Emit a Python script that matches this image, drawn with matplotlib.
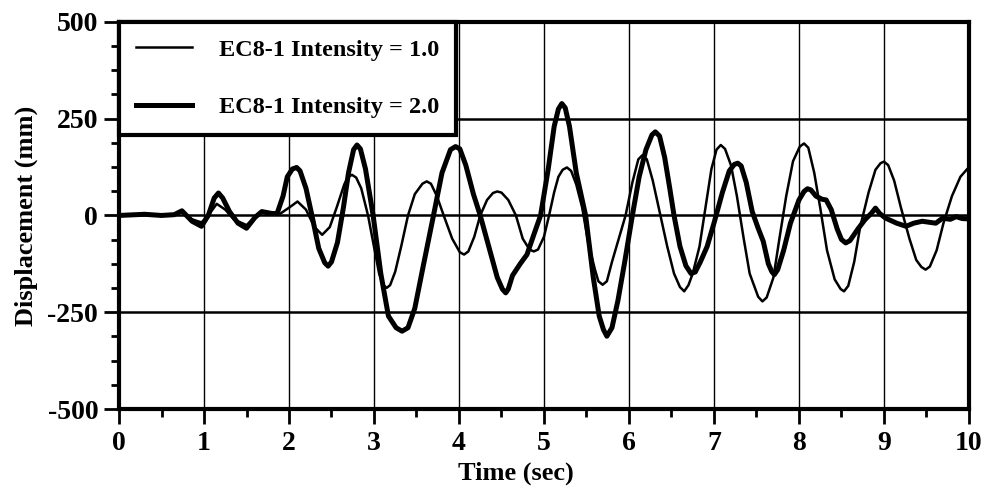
import matplotlib.pyplot as plt
from matplotlib.ticker import MultipleLocator

# Displacement history (time in s, displacement in mm)
t_i1 = [0.0, 0.3, 0.5, 0.65, 0.74, 0.86, 0.97, 1.05, 1.15, 1.25, 1.35, 1.5, 1.6, 1.68, 1.8, 1.9,
        2.0, 2.1, 2.2, 2.3, 2.39, 2.48, 2.56, 2.65, 2.69, 2.74, 2.79, 2.85, 2.93, 3.0, 3.06,
        3.11, 3.15, 3.19, 3.25, 3.32, 3.4, 3.48, 3.57, 3.62, 3.67, 3.74, 3.82, 3.92, 4.01,
        4.06, 4.11, 4.18, 4.25, 4.33, 4.4, 4.45, 4.5, 4.58, 4.67, 4.75, 4.83, 4.88, 4.93,
        5.0, 5.06, 5.12, 5.17, 5.22, 5.27, 5.32, 5.38, 5.45, 5.52, 5.6, 5.64, 5.69, 5.74,
        5.8, 5.9, 5.96, 6.04, 6.11, 6.16, 6.21, 6.28, 6.35, 6.45, 6.53, 6.6, 6.65, 6.7,
        6.75, 6.83, 6.9, 6.97, 7.03, 7.08, 7.13, 7.2, 7.27, 7.35, 7.42, 7.52, 7.57, 7.62,
        7.7, 7.77, 7.85, 7.93, 8.01, 8.06, 8.11, 8.18, 8.25, 8.33, 8.42, 8.49, 8.53, 8.58,
        8.65, 8.72, 8.82, 8.9, 8.96, 9.0, 9.05, 9.12, 9.2, 9.3, 9.38, 9.44, 9.49, 9.54,
        9.62, 9.7, 9.8, 9.9, 10.0]
d_i1 = [0, 2, 0, 2, 10, -10, -18, 0, 30, 15, -10, -25, -5, 8, 3, 5,
        20, 36, 15, -30, -50, -30, 20, 80, 98, 105, 98, 70, 0, -80, -150,
        -180, -187, -180, -145, -80, 0, 55, 82, 88, 82, 50, 0, -60, -95,
        -101, -93, -55, 0, 40, 58, 62, 59, 40, 0, -60, -88, -93, -88,
        -55, 0, 60, 100, 118, 124, 115, 80, 20, -70, -140, -170, -179, -170,
        -120, -45, 0, 85, 145, 156, 145, 90, 20, -80, -150, -185, -196, -180,
        -150, -80, 20, 120, 170, 182, 172, 130, 50, -60, -150, -210, -222, -212,
        -160, -60, 50, 140, 178, 186, 175, 110, 20, -90, -165, -190, -196, -182,
        -120, -30, 60, 118, 135, 139, 130, 90, 20, -60, -115, -133, -140, -132,
        -90, -20, 50, 100, 125]

t_i2 = [0.0, 0.3, 0.5, 0.65, 0.74, 0.86, 0.97, 1.05, 1.12, 1.17, 1.22, 1.3, 1.4, 1.5, 1.6, 1.68,
        1.8, 1.86, 1.93, 1.98, 2.04, 2.09, 2.13, 2.2, 2.27, 2.35, 2.42, 2.46, 2.5, 2.57, 2.64,
        2.7, 2.76, 2.8, 2.84, 2.9, 2.99, 3.08, 3.17, 3.26, 3.33, 3.4, 3.48, 3.58, 3.7, 3.8,
        3.9, 3.96, 4.01, 4.08, 4.17, 4.25, 4.35, 4.45, 4.51, 4.55, 4.58, 4.63, 4.72, 4.8,
        4.88, 4.96, 5.05, 5.12, 5.17, 5.21, 5.25, 5.3, 5.38, 5.49, 5.58, 5.65, 5.7, 5.74,
        5.8, 5.87, 5.95, 6.04, 6.12, 6.2, 6.27, 6.31, 6.36, 6.42, 6.48, 6.53, 6.6, 6.67,
        6.73, 6.78, 6.84, 6.92, 7.0, 7.1, 7.18, 7.24, 7.28, 7.32, 7.38, 7.45, 7.52, 7.58,
        7.64, 7.68, 7.71, 7.75, 7.82, 7.9, 8.0, 8.06, 8.1, 8.14, 8.2, 8.27, 8.32, 8.38,
        8.45, 8.5, 8.55, 8.6, 8.7, 8.78, 8.85, 8.9, 8.95, 9.02, 9.15, 9.26, 9.35, 9.45,
        9.55, 9.61, 9.69, 9.78, 9.85, 9.92, 10.0]
d_i2 = [0, 3, 0, 2, 12, -15, -28, 0, 45, 58, 45, 10, -20, -33, -5, 10,
        5, 5, 50, 100, 120, 124, 115, 70, 0, -85, -122, -131, -120, -70, 20,
        110, 170, 182, 172, 120, 0, -150, -260, -290, -299, -290, -240, -130, 0, 110,
        170, 178, 172, 130, 55, 0, -80, -160, -190, -200, -190, -155, -125, -101,
        -50, 0, 120, 230, 275, 289, 278, 230, 110, 0, -160, -260, -295, -312,
        -290, -220, -120, 0, 100, 170, 208, 216, 205, 150, 70, 0, -80, -130,
        -150, -146, -120, -80, -20, 60, 115, 132, 135, 128, 85, 10, -33, -67,
        -125, -145, -153, -140, -90, -20, 40, 62, 69, 66, 50, 42, 40, 15,
        -35, -62, -71, -65, -33, -10, 5, 19, 5, -7, -20, -28, -20, -15,
        -18, -20, -7, -10, -3, -8, -9]

labels = ['EC8-1 Intensity = 1.0', 'EC8-1 Intensity = 2.0']

plt.rcParams['font.family'] = ['Liberation Serif', 'DejaVu Serif']
plt.rcParams['font.weight'] = 'bold'
plt.rcParams['axes.labelweight'] = 'bold'
plt.rcParams['axes.unicode_minus'] = False

fig = plt.figure(figsize=(9.86, 4.9), dpi=100)
ax = fig.add_axes([0.1207, 0.1653, 0.862, 0.790])

ax.plot(t_i1, d_i1, color='black', lw=1.8, label=labels[0])
ax.plot(t_i2, d_i2, color='black', lw=3.6, label=labels[1])

ax.set_xlim(0, 10)
ax.set_ylim(-500, 500)
ax.xaxis.set_major_locator(MultipleLocator(1))
ax.xaxis.set_minor_locator(MultipleLocator(0.5))
ax.yaxis.set_major_locator(MultipleLocator(250))
ax.yaxis.set_minor_locator(MultipleLocator(62.5))

ax.grid(which='major', axis='x', color='black', lw=1.0)
ax.grid(which='major', axis='y', color='black', lw=1.8)
ax.set_axisbelow(True)

for s in ax.spines.values():
    s.set_linewidth(3)

ax.tick_params(which='major', direction='out', length=11, width=2, labelsize=20)
ax.tick_params(axis='x', which='major', pad=5)
ax.tick_params(axis='y', which='major', pad=4)
ax.tick_params(which='minor', direction='out', length=5.5, width=2)

ax.set_xlabel('Time (sec)', fontsize=19)
ax.set_ylabel('Displacement (mm)', fontsize=19)
ax.xaxis.set_label_coords(0.467, -0.135)
ax.yaxis.set_label_coords(-0.095, 0.5)

leg = ax.legend(loc='upper left', bbox_to_anchor=(0, 1), borderaxespad=0, fancybox=False,
                fontsize=17.5, handlelength=2.3, handletextpad=1.1, borderpad=0.7,
                labelspacing=1.45, framealpha=1, edgecolor='black')
leg.get_frame().set_linewidth(3)

fig.savefig('out.png', dpi=100)
